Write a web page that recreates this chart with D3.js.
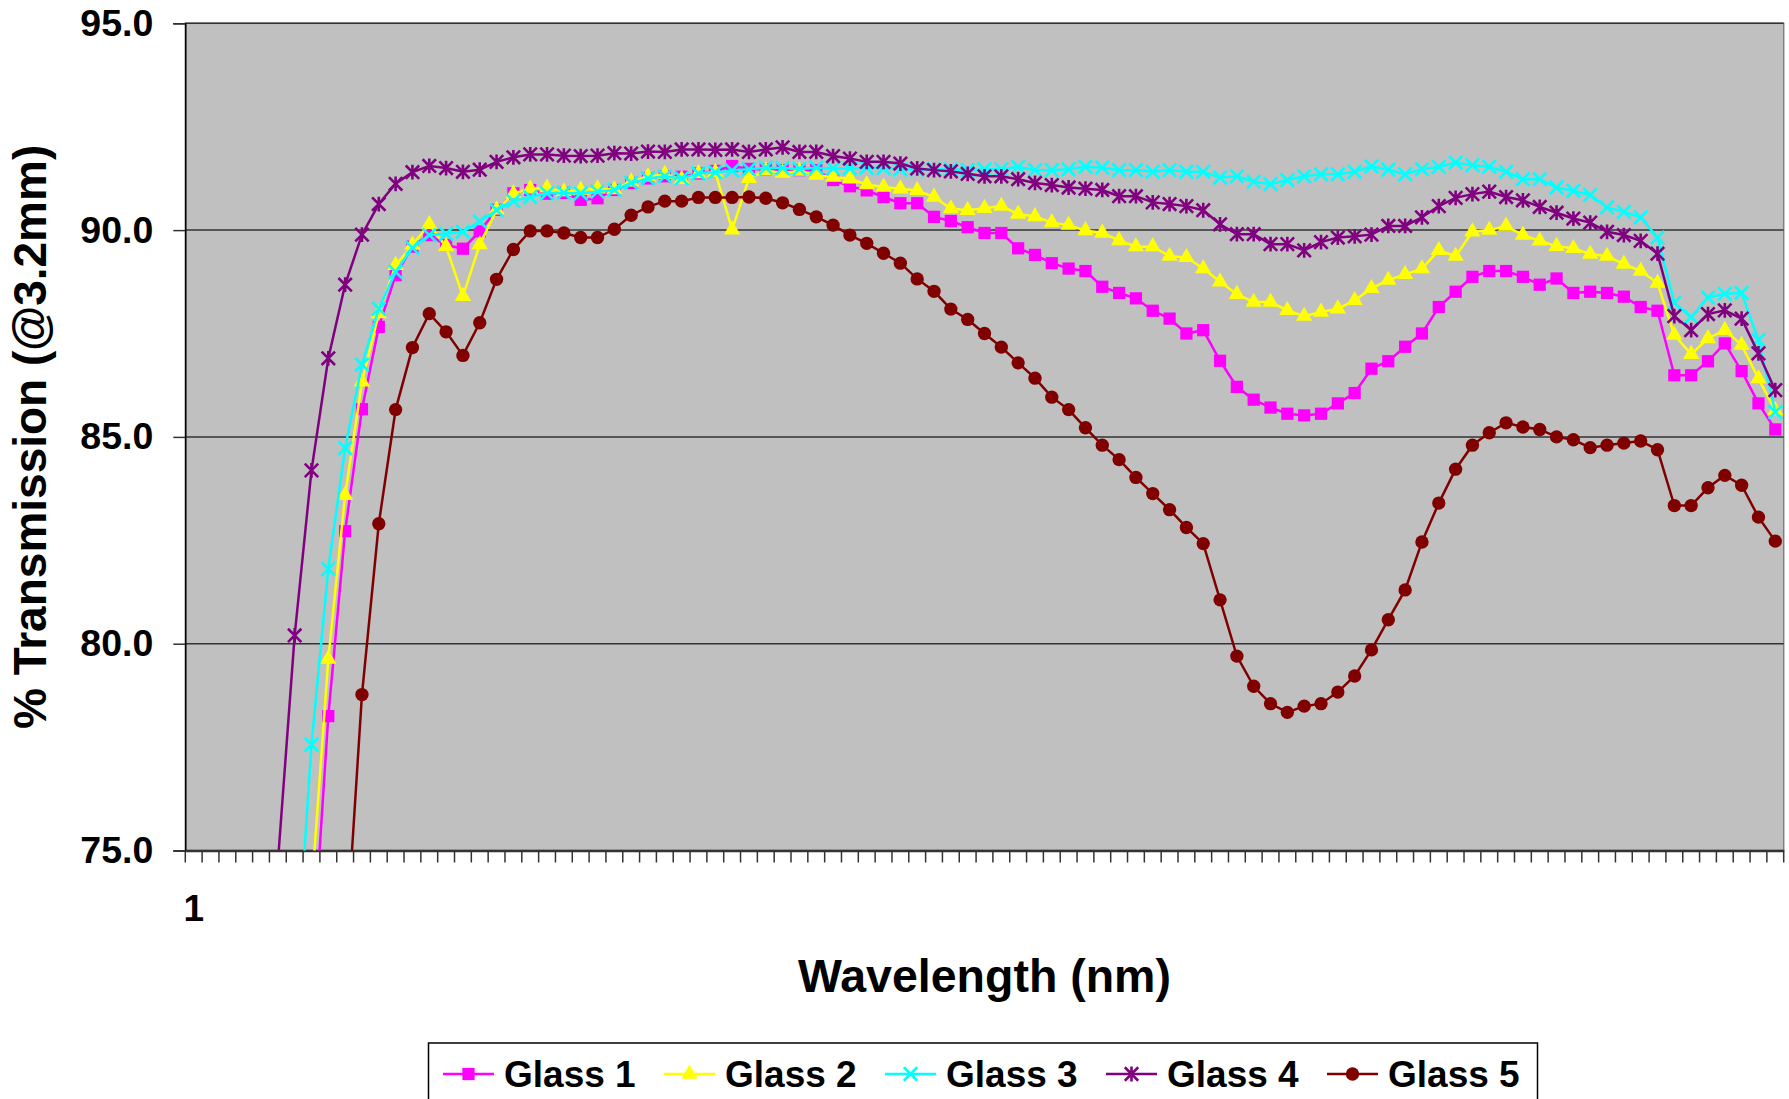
<!DOCTYPE html>
<html>

<head>
    <meta charset="utf-8">
    <title>% Transmission</title>
    <style>
        body {
            margin: 0;
            background: #ffffff;
        }

        svg {
            display: block;
            font-family: Arial, 'Liberation Sans', sans-serif;
            font-weight: bold;
        }
    </style>
</head>

<body>
    <figure style="margin:0"></figure>

    <script src="https://d3js.org/d3.v7.min.js"></script>

    <script>

        ////////////////////////////////////
        /////////////// Data ///////////////
        ////////////////////////////////////

        // 95 categories on the x axis, only the first one is labelled
        const categories = d3.range(1, 96)
        const xTickLabels = [1]
        const yTicks = [75, 80, 85, 90, 95]
        const gridValues = [80, 85, 90, 95]

        const seriesNames = ['Glass 1', 'Glass 2', 'Glass 3', 'Glass 4', 'Glass 5']

        const glass1 = [null, null, null, null, null, null, null,
            72.0, 78.25, 82.72, 85.67, 87.66, 88.91, 89.60, 89.88, 89.64, 89.55,
            89.97, 90.49, 90.89, 90.97, 90.88, 90.90, 90.73, 90.77, 90.97, 91.14,
            91.25, 91.30, 91.29, 91.37, 91.43, 91.55, 91.48, 91.47, 91.45, 91.45,
            91.45, 91.21, 91.06, 90.96, 90.80, 90.65, 90.65, 90.32, 90.22, 90.07,
            89.93, 89.93, 89.56, 89.40, 89.20, 89.07, 89.01, 88.63, 88.48, 88.35,
            88.05, 87.86, 87.50, 87.58, 86.84, 86.21, 85.90, 85.71, 85.56, 85.52,
            85.56, 85.81, 86.06, 86.65, 86.83, 87.18, 87.50, 88.14, 88.51, 88.87,
            89.01, 89.01, 88.87, 88.68, 88.83, 88.48, 88.51, 88.48, 88.39, 88.14,
            88.05, 86.49, 86.49, 86.83, 87.26, 86.59, 85.81, 85.18]

        const glass2 = [null, null, null, null, null, null, null,
            74.0, 79.63, 83.59, 86.33, 87.98, 89.15, 89.64, 90.14, 89.60, 88.40,
            89.65, 90.49, 90.88, 91.00, 91.02, 90.93, 90.97, 91.00, 90.98, 91.17,
            91.29, 91.35, 91.23, 91.37, 91.40, 90.01, 91.25, 91.44, 91.38, 91.43,
            91.33, 91.28, 91.24, 91.10, 91.04, 91.00, 90.96, 90.80, 90.52, 90.48,
            90.53, 90.58, 90.39, 90.33, 90.18, 90.12, 89.99, 89.93, 89.75, 89.60,
            89.60, 89.37, 89.34, 89.07, 88.75, 88.45, 88.26, 88.26, 88.06, 87.92,
            88.02, 88.10, 88.30, 88.59, 88.79, 88.93, 89.07, 89.51, 89.37, 89.96,
            90.00, 90.10, 89.88, 89.74, 89.61, 89.56, 89.42, 89.37, 89.18, 89.01,
            88.72, 87.46, 87.00, 87.38, 87.58, 87.22, 86.41, 85.64]

        const glass3 = [null, null, null, null, null, null,
            71.4,
            77.56, 81.81, 84.73, 86.75, 88.10, 88.99, 89.57, 89.88, 89.91, 89.96,
            90.21, 90.48, 90.70, 90.80, 90.89, 90.90, 90.89, 90.93, 90.97, 91.14,
            91.25, 91.30, 91.25, 91.37, 91.40, 91.44, 91.47, 91.51, 91.50, 91.48,
            91.51, 91.49, 91.49, 91.51, 91.50, 91.47, 91.46, 91.47, 91.47, 91.45,
            91.47, 91.47, 91.53, 91.45, 91.45, 91.47, 91.53, 91.51, 91.45, 91.45,
            91.41, 91.45, 91.41, 91.41, 91.27, 91.30, 91.17, 91.11, 91.21, 91.30,
            91.35, 91.35, 91.41, 91.54, 91.46, 91.35, 91.47, 91.53, 91.63, 91.57,
            91.53, 91.41, 91.23, 91.23, 91.03, 90.95, 90.85, 90.55, 90.44, 90.31,
            89.82, 88.24, 87.90, 88.37, 88.46, 88.48, 87.34, 85.60]

        const glass4 = [null, null, null, null, null,
            74.7, 80.20,
            84.19, 86.90, 88.68, 89.89, 90.63, 91.12, 91.40, 91.55, 91.50, 91.41,
            91.46, 91.65, 91.76, 91.83, 91.83, 91.80, 91.79, 91.80, 91.86, 91.85,
            91.90, 91.89, 91.95, 91.95, 91.94, 91.95, 91.89, 91.95, 92.00, 91.89,
            91.89, 91.79, 91.73, 91.65, 91.65, 91.61, 91.49, 91.45, 91.42, 91.36,
            91.30, 91.30, 91.23, 91.14, 91.09, 91.03, 91.00, 90.97, 90.82, 90.82,
            90.67, 90.63, 90.58, 90.48, 90.14, 89.90, 89.90, 89.66, 89.66, 89.51,
            89.71, 89.82, 89.85, 89.89, 90.10, 90.10, 90.31, 90.58, 90.78, 90.87,
            90.93, 90.80, 90.72, 90.56, 90.42, 90.28, 90.18, 89.96, 89.88, 89.74,
            89.43, 87.92, 87.58, 87.97, 88.06, 87.86, 87.02, 86.13]

        const glass5 = [null, null, null, null, null, null, null, null, null,
            72.4, 78.77, 82.90, 85.66, 87.16, 87.98, 87.54, 86.97,
            87.76, 88.81, 89.53, 89.98, 89.98, 89.93, 89.82, 89.82, 90.02, 90.36,
            90.56, 90.70, 90.70, 90.79, 90.79, 90.79, 90.80, 90.77, 90.66, 90.50,
            90.32, 90.12, 89.88, 89.68, 89.44, 89.20, 88.82, 88.52, 88.09, 87.84,
            87.50, 87.17, 86.79, 86.42, 85.96, 85.66, 85.22, 84.80, 84.45, 84.02,
            83.63, 83.24, 82.81, 82.42, 81.06, 79.70, 78.97, 78.55, 78.34, 78.49,
            78.55, 78.83, 79.22, 79.85, 80.58, 81.30, 82.46, 83.40, 84.22, 84.80,
            85.10, 85.34, 85.24, 85.18, 85.00, 84.93, 84.74, 84.80, 84.85, 84.90,
            84.69, 83.34, 83.34, 83.77, 84.07, 83.83, 83.06, 82.48]

        const seriesValues = [glass1, glass2, glass3, glass4, glass5]

        ////////////////////////////////////
        ///////////// SVG Setup ////////////
        ////////////////////////////////////

        const width = 1789
        const height = 1099

        // plot area (inner rectangle in pixels)
        const plot = { left: 185.3, right: 1783.7, top: 23.3, bottom: 850.5 }

        const svg = d3.select('figure')
            .append('svg')
            .attr('width', width)
            .attr('height', height)

        svg.append('rect')
            .attr('width', width)
            .attr('height', height)
            .attr('fill', '#ffffff')

        ////////////////////////////////////
        /////////////// Scales /////////////
        ////////////////////////////////////

        const xScale = d3.scaleBand()
            .domain(categories)
            .range([plot.left, plot.right])
            .padding(0)

        const yScale = d3.scaleLinear()
            .domain([75, 95])
            .range([plot.bottom, plot.top])

        const xMid = c => xScale(c) + xScale.bandwidth() / 2

        // marker shapes, Excel style
        const symTimes = {
            draw(ctx, size) {
                const r = Math.sqrt(size) / 2
                ctx.moveTo(-r, -r); ctx.lineTo(r, r)
                ctx.moveTo(r, -r); ctx.lineTo(-r, r)
            }
        }
        const symStar = {
            draw(ctx, size) {
                const r = Math.sqrt(size) / 2
                ctx.moveTo(-r, -r); ctx.lineTo(r, r)
                ctx.moveTo(r, -r); ctx.lineTo(-r, r)
                ctx.moveTo(0, -r * 1.1); ctx.lineTo(0, r * 1.1)
            }
        }

        const styles = [
            { color: '#FF00FF', type: d3.symbolSquare, size: 150, filled: true },
            { color: '#FFFF00', type: d3.symbolTriangle, size: 115, filled: true },
            { color: '#00FFFF', type: symTimes, size: 180, filled: false },
            { color: '#800080', type: symStar, size: 180, filled: false },
            { color: '#800000', type: d3.symbolCircle, size: 140, filled: true }
        ]

        ////////////////////////////////////
        //////////// Plot area /////////////
        ////////////////////////////////////

        svg.append('rect')
            .attr('x', plot.left)
            .attr('y', plot.top)
            .attr('width', plot.right - plot.left)
            .attr('height', plot.bottom - plot.top)
            .attr('fill', '#C0C0C0')
            .attr('stroke', '#808080')
            .attr('stroke-width', 1.5)

        svg.append('g')
            .selectAll('line')
            .data(gridValues)
            .join('line')
            .attr('x1', plot.left)
            .attr('x2', plot.right)
            .attr('y1', d => yScale(d))
            .attr('y2', d => yScale(d))
            .attr('stroke', '#333333')
            .attr('stroke-width', 1.5)

        svg.append('clipPath')
            .attr('id', 'plotClip')
            .append('rect')
            .attr('x', plot.left)
            .attr('y', plot.top)
            .attr('width', plot.right - plot.left)
            .attr('height', plot.bottom - plot.top)

        ////////////////////////////////////
        /////////////// Axes ///////////////
        ////////////////////////////////////

        // y axis
        const yAxis = svg.append('g')
            .attr('transform', `translate(${plot.left},0)`)
            .call(d3.axisLeft(yScale)
                .tickValues(yTicks)
                .tickFormat(d3.format('.1f'))
                .tickSize(12)
                .tickPadding(20))

        yAxis.select('.domain').attr('stroke', '#000').attr('stroke-width', 1.5)
        yAxis.selectAll('.tick line').attr('stroke', '#333').attr('stroke-width', 1.5)
        yAxis.selectAll('.tick text')
            .attr('font-size', 37.5)
            .attr('font-weight', 'bold')
            .attr('font-family', "Arial, 'Liberation Sans', sans-serif")
            .attr('fill', '#000')

        // x axis: ticks between categories
        const boundaries = categories.map(c => xScale(c)).concat([xScale.range()[1]])
        svg.append('g')
            .selectAll('line')
            .data(boundaries)
            .join('line')
            .attr('x1', d => d)
            .attr('x2', d => d)
            .attr('y1', plot.bottom)
            .attr('y2', plot.bottom + 12)
            .attr('stroke', '#333')
            .attr('stroke-width', 1.5)

        const xAxis = svg.append('g')
            .attr('transform', `translate(0,${plot.bottom})`)
            .call(d3.axisBottom(xScale)
                .tickValues(xTickLabels)
                .tickSize(0)
                .tickPadding(44))

        xAxis.select('.domain').attr('stroke', '#333').attr('stroke-width', 2.5)
        xAxis.selectAll('.tick text')
            .attr('font-size', 37)
            .attr('font-weight', 'bold')
            .attr('font-family', "Arial, 'Liberation Sans', sans-serif")
            .attr('fill', '#000')

        // axis titles
        svg.append('text')
            .attr('x', (plot.left + plot.right) / 2)
            .attr('y', 992)
            .attr('text-anchor', 'middle')
            .attr('font-size', 46.5)
            .text('Wavelength (nm)')

        svg.append('text')
            .attr('transform', `translate(46,${(plot.top + plot.bottom) / 2}) rotate(-90)`)
            .attr('text-anchor', 'middle')
            .attr('font-size', 46)
            .text('% Transmission (@3.2mm)')

        ////////////////////////////////////
        ////////////// Series //////////////
        ////////////////////////////////////

        const line = d3.line()
            .defined(d => d.v !== null)
            .x(d => xMid(d.c))
            .y(d => yScale(d.v))

        seriesValues.forEach((values, s) => {
            const st = styles[s]
            const pts = categories.map((c, i) => ({ c: c, v: values[i] }))
            const g = svg.append('g').attr('class', 'series')

            g.append('path')
                .datum(pts)
                .attr('clip-path', 'url(#plotClip)')
                .attr('fill', 'none')
                .attr('stroke', st.color)
                .attr('stroke-width', 2.5)
                .attr('d', line)

            g.selectAll('path.marker')
                .data(pts.filter(d => d.v !== null && d.v >= 75))
                .join('path')
                .attr('class', 'marker')
                .attr('transform', d => `translate(${xMid(d.c)},${yScale(d.v)})`)
                .attr('d', d3.symbol().type(st.type).size(st.size))
                .attr('fill', st.filled ? st.color : 'none')
                .attr('stroke', st.color)
                .attr('stroke-width', st.filled ? 0 : 2.6)
        })

        ////////////////////////////////////
        ////////////// Legend //////////////
        ////////////////////////////////////

        const legend = svg.append('g')

        legend.append('rect')
            .attr('x', 428.5)
            .attr('y', 1043)
            .attr('width', 1109)
            .attr('height', 80)
            .attr('fill', '#ffffff')
            .attr('stroke', '#000')
            .attr('stroke-width', 1.5)

        const item = legend.selectAll('g.item')
            .data(seriesNames)
            .join('g')
            .attr('class', 'item')
            .attr('transform', (d, i) => `translate(${443 + i * 221},1074)`)

        item.append('line')
            .attr('x1', 0)
            .attr('x2', 51)
            .attr('stroke', (d, i) => styles[i].color)
            .attr('stroke-width', 2.5)

        item.append('path')
            .attr('transform', 'translate(25.5,0)')
            .attr('d', (d, i) => d3.symbol().type(styles[i].type).size(styles[i].size)())
            .attr('fill', (d, i) => styles[i].filled ? styles[i].color : 'none')
            .attr('stroke', (d, i) => styles[i].color)
            .attr('stroke-width', (d, i) => styles[i].filled ? 0 : 2.6)

        item.append('text')
            .attr('x', 61)
            .attr('y', 12.5)
            .attr('font-size', 37)
            .text(d => d)

    </script>
</body>

</html>
